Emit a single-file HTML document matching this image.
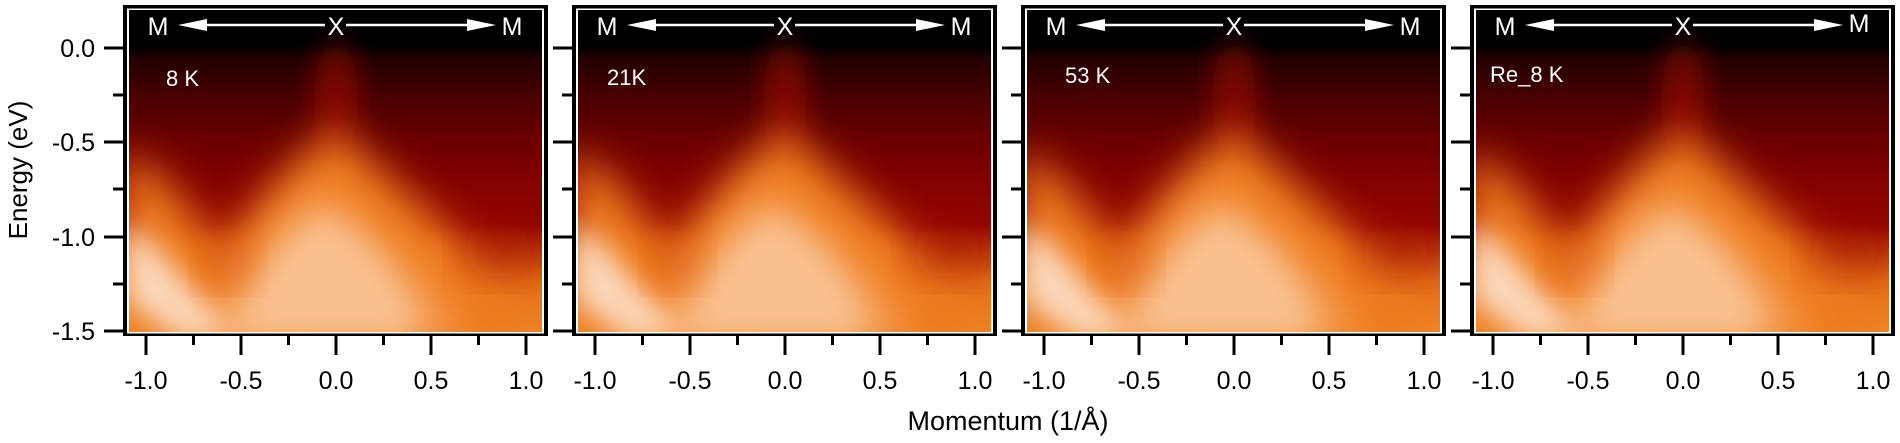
<!DOCTYPE html>
<html><head><meta charset="utf-8"><style>
html,body{margin:0;padding:0;background:#fff;}
svg{display:block;font-family:"Liberation Sans",Arial,sans-serif;}
</style></head><body>
<svg width="1900" height="443" viewBox="0 0 1900 443" xmlns="http://www.w3.org/2000/svg">
<defs>
  <clipPath id="cp"><rect x="6" y="10" width="413" height="322"/></clipPath>
  <filter id="b1" x="-30%" y="-30%" width="160%" height="160%"><feGaussianBlur stdDeviation="20"/></filter>
  <filter id="b2" x="-30%" y="-30%" width="160%" height="160%"><feGaussianBlur stdDeviation="14"/></filter>
  <filter id="b3" x="-30%" y="-30%" width="160%" height="160%"><feGaussianBlur stdDeviation="5"/></filter>
  <linearGradient id="base" x1="0" y1="0" x2="0" y2="1" gradientUnits="objectBoundingBox">
    <stop offset="0" stop-color="#000"/>
    <stop offset="0.11" stop-color="#000"/>
    <stop offset="0.15" stop-color="#240000"/>
    <stop offset="0.25" stop-color="#440000"/>
    <stop offset="0.40" stop-color="#6a0000"/>
    <stop offset="0.55" stop-color="#860200"/>
    <stop offset="0.72" stop-color="#980a00"/>
    <stop offset="1" stop-color="#b02000"/>
  </linearGradient>
  <linearGradient id="bot" x1="0" y1="0" x2="0" y2="1">
    <stop offset="0" stop-color="#ec7a1c" stop-opacity="0"/>
    <stop offset="0.5" stop-color="#ec7a1c" stop-opacity="0.85"/>
    <stop offset="1" stop-color="#f28a28" stop-opacity="1"/>
  </linearGradient>
  <g id="panel">
    <g clip-path="url(#cp)">
      <rect x="6" y="10" width="413" height="322" fill="url(#base)"/>
      <ellipse cx="213" cy="100" rx="22" ry="60" fill="#b00c00" opacity="0.55" filter="url(#b2)"/>
      <rect x="0" y="225" width="430" height="115" fill="url(#bot)"/>
      <polygon points="213,128 260,172 330,235 390,300 420,340 30,340 100,245 165,168" fill="#ee7a1a" filter="url(#b1)"/>
      <polygon points="0,150 40,180 90,240 150,340 0,340" fill="#ee7a1a" filter="url(#b1)"/>
      <polygon points="200,188 250,228 300,280 340,340 70,340 120,270 160,218" fill="#f6a866" opacity="0.9" filter="url(#b1)"/>
      <polygon points="205,215 250,250 285,300 295,340 105,340 135,280 170,235" fill="#f9c89c" opacity="0.8" filter="url(#b2)"/>
      <polygon points="0,220 35,248 80,300 115,340 55,340 0,300" fill="#fde2cc" opacity="0.9" filter="url(#b2)"/>
      <ellipse cx="375" cy="250" rx="35" ry="28" fill="#a01000" opacity="0.45" filter="url(#b1)"/>
      <ellipse cx="105" cy="262" rx="25" ry="22" fill="#c84010" opacity="0.4" filter="url(#b1)"/>
    </g>
    <rect x="2" y="7" width="421" height="327" fill="none" stroke="#000" stroke-width="4"/>
    <rect x="4.75" y="9.25" width="415.5" height="323.5" fill="none" stroke="#fff" stroke-width="1.5"/>
    <g stroke="#000" stroke-width="3">
      <line x1="-19" y1="48" x2="0" y2="48"/>
      <line x1="-10" y1="95" x2="0" y2="95"/>
      <line x1="-19" y1="142" x2="0" y2="142"/>
      <line x1="-10" y1="189" x2="0" y2="189"/>
      <line x1="-19" y1="237" x2="0" y2="237"/>
      <line x1="-10" y1="284" x2="0" y2="284"/>
      <line x1="-19" y1="331" x2="0" y2="331"/>
      <line x1="23" y1="336" x2="23" y2="355"/>
      <line x1="70.5" y1="336" x2="70.5" y2="345"/>
      <line x1="118" y1="336" x2="118" y2="355"/>
      <line x1="165.5" y1="336" x2="165.5" y2="345"/>
      <line x1="213" y1="336" x2="213" y2="355"/>
      <line x1="260.5" y1="336" x2="260.5" y2="345"/>
      <line x1="308" y1="336" x2="308" y2="355"/>
      <line x1="355.5" y1="336" x2="355.5" y2="345"/>
      <line x1="403" y1="336" x2="403" y2="355"/>
    </g>
    <g font-size="25" text-anchor="middle" fill="#000">
      <text x="23" y="389">-1.0</text>
      <text x="118" y="389">-0.5</text>
      <text x="213" y="389">0.0</text>
      <text x="308" y="389">0.5</text>
      <text x="403" y="389">1.0</text>
    </g>
    <g fill="#fff" stroke="#fff">
      <line x1="80" y1="25" x2="202" y2="25" stroke-width="2.5"/>
      <line x1="223" y1="25" x2="345" y2="25" stroke-width="2.5"/>
      <polygon points="55,25 84,19 84,31" stroke="none"/>
      <polygon points="373,25 344,19 344,31" stroke="none"/>
    </g>
    <g font-size="25" fill="#fff" text-anchor="middle">
      <text x="35" y="35">M</text>
      <text x="213" y="35">X</text>
    </g>
  </g>
</defs>

<use href="#panel" x="123" y="0"/>
<use href="#panel" x="572" y="0"/>
<use href="#panel" x="1021" y="0"/>
<use href="#panel" x="1470" y="0"/>

<g font-size="25" fill="#fff" text-anchor="middle">
  <text x="512" y="35">M</text>
  <text x="961" y="35">M</text>
  <text x="1410" y="35">M</text>
  <text x="1859" y="32">M</text>
</g>
<g font-size="22" fill="#fff">
  <text x="166" y="86">8 K</text>
  <text x="607" y="85">21K</text>
  <text x="1065" y="83">53 K</text>
  <text x="1490" y="82">Re_8 K</text>
</g>

<g font-size="25" text-anchor="end" fill="#000">
  <text x="95" y="57">0.0</text>
  <text x="95" y="151">-0.5</text>
  <text x="95" y="246">-1.0</text>
  <text x="95" y="340">-1.5</text>
</g>
<text x="0" y="0" font-size="26" text-anchor="middle" transform="translate(27,170) rotate(-90)">Energy (eV)</text>
<text x="1008" y="430" font-size="27" text-anchor="middle">Momentum (1/Å)</text>
</svg>
</body></html>
